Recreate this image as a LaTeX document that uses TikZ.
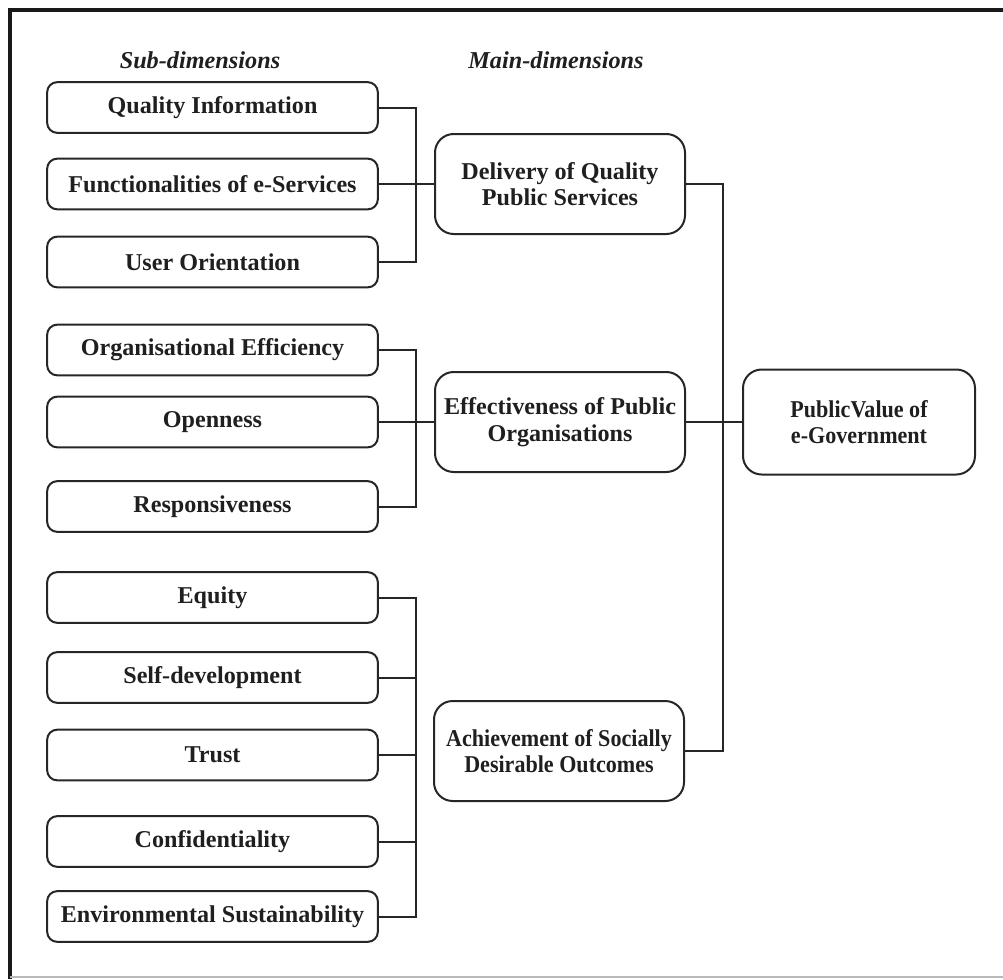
\documentclass[tikz,border=0pt]{standalone}
\usepackage{fontspec}
\setmainfont{Liberation Serif}
\newfontfamily\narrowserif[FakeStretch=0.915]{Liberation Serif}
\begin{document}
\begin{tikzpicture}[x=0.75pt,y=-0.75pt,
  boxtext/.style={font=\fontsize{18.1}{20}\selectfont\bfseries, text=black!88},
  narrowtext/.style={font=\narrowserif\fontsize{18.1}{20}\selectfont\bfseries},
  subbox/.style={boxtext, draw=black!85, line width=1.5pt, rounded corners=7.5pt,
    minimum width=248pt, minimum height=38pt, inner sep=0pt},
  mainbox/.style={boxtext, draw=black!85, line width=1.5pt, rounded corners=14pt,
    minimum width=187.5pt, minimum height=75pt, inner sep=0pt, align=center},
  link/.style={draw=black!85, line width=1.5pt},
  heading/.style={font=\fontsize{18.2}{20}\selectfont\bfseries\itshape, text=black!88}]
\useasboundingbox (0,0) rectangle (1003,979);

% page frame
\draw[line width=3pt, black!90] (10,979) -- (10,10) -- (1003,10);
\draw[line width=1pt, gray!55] (10,977) -- (1003,977);

% column headings
\node[heading] (hsub) at (200,60) {Sub-dimensions};
\node[heading] (hmain) at (556,60) {Main-dimensions};

% sub-dimensions
\node[subbox] (qi) at (212.5,107.5) {Quality Information};
\node[subbox] (fu) at (212.5,184) {Functionalities of e-Services};
\node[subbox] (uo) at (212.5,262) {User Orientation};

\node[subbox] (oe) at (212.5,350) {Organisational Efficiency};
\node[subbox] (op) at (212.5,422) {Openness};
\node[subbox] (re) at (212.5,506.5) {Responsiveness};

\node[subbox] (eq) at (212.5,597.5) {Equity};
\node[subbox] (sd) at (212.5,677.5) {Self-development};
\node[subbox] (tr) at (212.5,755) {Trust};
\node[subbox] (co) at (212.5,841.5) {Confidentiality};
\node[subbox] (es) at (212.5,916.5) {Environmental Sustainability};

% main dimensions
\node[mainbox] (dq) at (560,184) {Delivery of Quality\\Public Services};
\node[mainbox] (ep) at (560,422) {Effectiveness of Public\\Organisations};
\node[mainbox, narrowtext] (as) at (559,751) {Achievement of Socially\\Desirable Outcomes};

% overall construct
\node[mainbox, narrowtext, minimum width=174pt, minimum height=78.75pt] (pv) at (859,422) {PublicValue of\\e-Government};

% connectors: sub-dimensions to main dimensions
\draw[link] (qi.east) -- ++(37,0) |- (uo.east);
\draw[link] (fu.east) -- (dq.west);

\draw[link] (oe.east) -- ++(37,0) |- (re.east);
\draw[link] (op.east) -- (ep.west);

\draw[link] (eq.east) -- ++(37,0) |- (es.east);
\draw[link] (sd.east) -- ++(37,0);
\draw[link] (tr.east) -- ++(37,0);
\draw[link] (co.east) -- ++(37,0);

% connectors: main dimensions to public value
\draw[link] (dq.east) -- ++(37,0) |- (as.east);
\draw[link] (ep.east) -- (pv.west);
\end{tikzpicture}
\end{document}
